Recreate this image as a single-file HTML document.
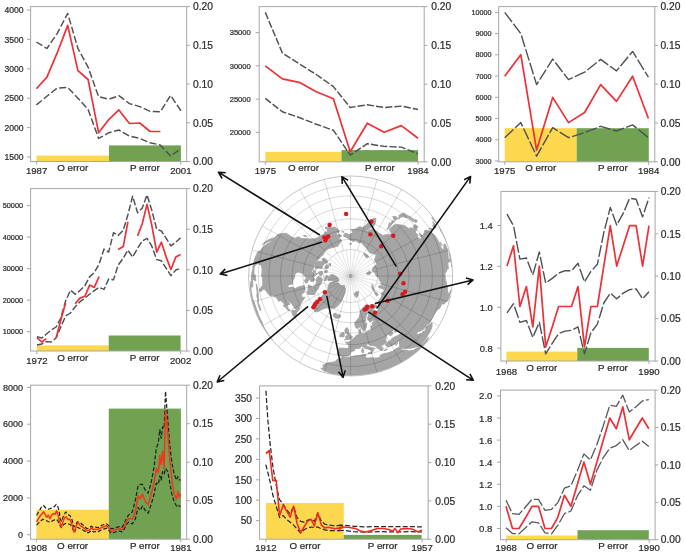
<!DOCTYPE html>
<html><head><meta charset="utf-8"><title>State-space model fits: observation and process error</title>
<style>html,body{margin:0;padding:0;background:#fff}svg{display:block;filter:blur(0.35px)}text{font-family:"Liberation Sans", sans-serif;stroke:#2a2a2a;stroke-width:0.22px}</style></head>
<body>
<svg width="685" height="555" viewBox="0 0 685 555">
<rect width="685" height="555" fill="#fff"/>
<clipPath id="gc"><circle cx="0.0" cy="0.0" r="100.0"/></clipPath>
<g transform="translate(350.6,276.0) scale(1.02,1)">
<circle cx="0.0" cy="0.0" r="100.0" fill="#fff"/>
<g clip-path="url(#gc)">
<path d="M-96.5,22.3 L-97.6,17.2 L-98.2,12.1 L-98.2,7.7 L-97.3,4.3 L-97.0,-1.7 L-95.9,-6.7 L-95.5,-11.7 L-94.6,-15.0 L-93.6,-18.2 L-92.3,-21.3 L-90.8,-24.3 L-88.5,-25.4 L-85.3,-29.4 L-81.1,-32.8 L-78.7,-33.4 L-77.4,-35.6 L-81.4,-34.2 L-85.2,-31.9 L-86.5,-31.5 L-84.0,-34.0 L-80.0,-36.4 L-77.0,-37.6 L-74.6,-38.3 L-71.0,-41.8 L-67.7,-42.3 L-63.5,-42.8 L-60.5,-41.1 L-57.1,-38.5 L-54.6,-37.8 L-55.0,-35.7 L-52.7,-36.9 L-50.3,-37.9 L-44.5,-37.3 L-39.8,-37.1 L-35.8,-37.0 L-34.0,-37.7 L-32.1,-38.3 L-30.8,-39.4 L-29.4,-40.5 L-27.7,-41.1 L-26.1,-41.8 L-24.6,-44.4 L-22.8,-42.8 L-23.0,-46.1 L-23.2,-47.6 L-21.3,-50.1 L-19.2,-52.8 L-19.4,-50.6 L-19.9,-48.1 L-17.9,-48.6 L-15.9,-49.0 L-12.5,-46.8 L-11.0,-44.1 L-12.4,-43.3 L-13.8,-42.4 L-14.0,-40.7 L-12.6,-41.2 L-11.1,-41.6 L-8.6,-40.4 L-9.8,-39.4 L-11.0,-38.3 L-12.1,-37.2 L-10.5,-36.6 L-8.9,-35.9 L-10.2,-33.5 L-11.1,-32.2 L-11.9,-31.0 L-12.6,-29.7 L-14.0,-29.4 L-15.4,-29.0 L-16.8,-28.8 L-18.2,-28.4 L-19.6,-28.0 L-20.8,-27.6 L-21.9,-27.1 L-23.0,-26.4 L-24.0,-25.7 L-25.0,-25.0 L-25.7,-23.7 L-26.4,-22.4 L-27.0,-21.1 L-28.0,-20.3 L-29.0,-19.6 L-29.9,-18.7 L-30.8,-17.8 L-31.6,-16.8 L-32.9,-16.1 L-34.2,-15.2 L-34.7,-14.0 L-35.2,-12.8 L-35.6,-11.6 L-36.0,-10.3 L-36.3,-9.1 L-36.6,-7.8 L-37.2,-6.6 L-37.6,-5.3 L-38.1,-4.0 L-35.7,-2.5 L-31.6,-2.8 L-34.2,-1.2 L-35.4,0.0 L-36.6,1.3 L-34.9,3.1 L-36.3,5.1 L-38.6,5.8 L-39.6,4.3 L-40.6,2.8 L-43.8,1.5 L-45.4,-0.4 L-46.9,-2.5 L-51.3,-4.0 L-54.4,-2.4 L-54.8,-0.2 L-55.2,1.9 L-56.7,5.0 L-56.8,8.0 L-60.3,8.5 L-61.7,10.9 L-60.4,11.7 L-57.0,11.1 L-54.5,12.6 L-51.1,10.9 L-48.2,10.2 L-45.3,9.6 L-45.1,11.2 L-44.8,12.9 L-45.2,14.7 L-45.6,16.6 L-48.2,18.0 L-47.7,21.3 L-44.7,21.3 L-47.4,25.2 L-49.7,28.7 L-49.9,32.4 L-51.0,34.4 L-54.5,32.8 L-56.1,30.4 L-57.5,28.1 L-59.8,25.4 L-63.5,23.1 L-61.7,24.9 L-59.9,26.7 L-59.8,28.5 L-61.8,28.8 L-62.4,30.5 L-60.8,33.7 L-59.6,34.4 L-61.6,34.2 L-64.1,31.3 L-66.3,29.5 L-64.8,28.9 L-65.3,27.7 L-67.9,24.7 L-70.1,24.8 L-70.2,25.5 L-71.7,23.3 L-73.1,21.0 L-74.6,20.7 L-76.3,19.7 L-77.5,19.3 L-78.9,20.1 L-80.3,18.5 L-82.1,16.0 L-84.2,13.3 L-85.6,13.1 L-87.7,15.5 L-89.1,15.2 L-89.3,13.3 L-87.6,11.2 L-86.1,9.1 L-86.1,6.0 L-86.4,1.5 L-87.3,0.0 L-86.9,-3.0 L-86.8,-6.8 L-87.6,-10.8 L-89.9,-11.8 L-91.5,-12.5 L-94.0,-9.9 L-94.7,-7.5 L-94.8,-2.5 L-93.4,-0.8 L-92.9,4.9 L-94.7,4.1 L-96.1,2.5 L-96.0,6.7 L-95.9,10.9 L-96.8,11.0 L-97.5,11.1 L-97.8,13.7 L-97.2,17.1 L-96.8,18.8 L-96.4,22.2Z M-96.4,22.2 L-97.0,21.9 L-97.4,21.6 L-97.9,19.9 L-98.5,17.4 L-97.8,20.8 L-97.0,24.2 L-96.1,27.6 L-95.1,30.9 L-94.0,34.2 L-92.7,37.5 L-91.4,40.7 L-89.9,43.8 L-88.3,46.9 L-86.6,50.0 L-84.8,53.0 L-82.9,55.9 L-80.9,58.8 L-78.8,61.6 L-76.6,64.3 L-77.1,63.6 L-77.5,62.8 L-80.5,58.5 L-83.4,54.2 L-85.7,49.5 L-86.8,46.2 L-88.4,43.1 L-90.5,38.4 L-92.1,33.5 L-93.1,31.1 L-93.0,30.2 L-93.8,28.7 L-94.9,25.4 L-96.0,23.1Z M-35.4,35.4 L-36.0,32.4 L-34.7,28.1 L-32.5,24.5 L-29.0,21.1 L-26.7,18.7 L-24.4,16.1 L-21.9,13.7 L-22.0,12.7 L-22.1,11.8 L-22.1,10.8 L-22.1,9.8 L-21.4,8.6 L-20.6,7.5 L-19.8,6.4 L-17.9,6.5 L-16.1,6.5 L-15.1,6.7 L-14.1,6.9 L-13.1,6.9 L-12.1,7.0 L-11.7,7.3 L-11.3,7.7 L-10.9,8.0 L-10.5,8.4 L-10.1,8.7 L-9.7,9.0 L-9.2,9.2 L-8.7,9.4 L-8.1,9.5 L-7.6,9.5 L-7.0,9.6 L-6.5,9.6 L-6.0,9.6 L-5.9,10.3 L-5.8,10.9 L-5.6,11.6 L-5.4,12.2 L-5.2,12.9 L-5.4,14.7 L-5.4,16.5 L-7.3,21.3 L-9.4,25.9 L-12.7,30.0 L-15.7,32.2 L-17.1,32.1 L-18.5,32.0 L-19.9,31.8 L-21.5,31.9 L-23.3,32.0 L-25.0,32.1 L-29.8,34.3 L-33.6,36.0Z M-16.9,37.9 L-15.0,37.1 L-13.8,37.9 L-12.6,38.7 L-10.4,38.8 L-9.9,41.1 L-12.1,42.1 L-14.6,42.3 L-16.8,40.5Z M-28.0,4.9 L-28.5,6.6 L-29.4,7.9 L-30.3,9.3 L-31.1,11.0 L-31.7,12.8 L-34.2,15.2 L-34.8,17.0 L-35.2,18.7 L-38.0,18.5 L-41.5,18.5 L-42.8,17.3 L-42.3,15.4 L-41.7,13.5 L-41.6,11.1 L-41.3,8.8 L-39.5,9.8 L-37.6,10.8 L-35.0,10.7 L-34.3,8.9 L-33.5,7.1 L-33.7,5.9 L-33.9,4.8 L-33.6,3.5 L-33.3,2.3 L-31.7,0.6 L-28.3,2.0 L-28.0,2.9 L-27.6,3.9Z M-28.3,-14.4 L-32.5,-15.1 L-33.5,-13.9 L-34.4,-12.5 L-34.6,-10.9 L-34.6,-9.3 L-34.5,-8.0 L-34.4,-6.7 L-31.6,-7.9 L-28.2,-7.6 L-27.9,-8.8 L-27.5,-10.0 L-26.6,-11.0 L-25.7,-12.0 L-26.6,-14.1Z M-25.3,-17.7 L-27.3,-17.7 L-27.5,-15.9 L-26.9,-14.3 L-26.3,-12.8 L-23.9,-12.7 L-23.4,-13.5 L-22.9,-14.3 L-22.4,-15.1Z M-23.3,0.0 L-22.9,1.0 L-22.4,2.0 L-22.3,2.9 L-22.2,3.8 L-22.0,4.7 L-18.5,4.6 L-17.8,5.1 L-17.1,5.5 L-16.3,5.9 L-15.0,6.1 L-13.8,6.1 L-12.5,6.1 L-12.2,5.4 L-11.8,4.8 L-11.5,4.2 L-11.6,3.8 L-11.7,3.4 L-11.8,2.9 L-11.9,2.5 L-12.0,2.1 L-12.5,1.8 L-13.0,1.4 L-13.5,0.9 L-13.9,0.5 L-14.8,0.0 L-15.6,-0.5 L-16.5,0.0 L-17.4,0.6 L-18.2,1.3 L-20.8,0.7Z M-23.3,-0.8 L-24.2,0.0 L-25.0,0.9 L-25.2,1.8 L-25.3,2.7 L-25.4,3.6 L-25.5,4.5 L-23.8,4.2 L-23.6,3.3 L-23.4,2.5 L-23.1,1.6 L-22.8,0.8 L-23.1,0.0Z M-23.3,-11.3 L-23.9,-10.6 L-24.5,-9.9 L-25.1,-9.1 L-24.6,-8.0 L-24.1,-6.9 L-23.0,-7.5 L-21.9,-8.0 L-21.7,-8.8 L-21.5,-9.6 L-21.3,-10.4Z M-28.0,-4.9 L-31.5,-3.9 L-31.2,-2.7 L-30.9,-1.6 L-29.2,0.0 L-28.4,-1.0 L-27.5,-1.9 L-27.6,-2.9 L-27.6,-3.9Z M-43.8,2.3 L-45.2,4.7 L-44.1,7.0 L-42.5,6.7 L-41.7,5.1 L-40.8,3.6Z M-57.7,34.7 L-56.8,38.3 L-54.8,41.3 L-52.9,39.9 L-53.0,36.4 L-51.6,34.8 L-55.1,34.4Z M-92.4,8.1 L-91.2,12.8 L-90.8,16.0 L-90.4,19.2 L-90.5,24.2 L-90.3,25.9 L-91.9,20.4 L-91.6,16.2 L-92.2,11.3Z M-91.4,25.3 L-89.5,29.1 L-88.0,33.8 L-88.3,34.8 L-90.0,31.0Z M-7.8,80.5 L-12.5,78.9 L-12.6,76.7 L-11.4,73.4 L-11.4,72.0 L-8.9,72.2 L-6.3,72.3 L-2.3,72.6 L-1.5,69.5 L-5.2,66.3 L-1.7,66.0 L0.0,64.9 L2.2,62.9 L4.3,61.4 L5.2,59.5 L8.2,58.5 L8.4,56.0 L7.8,53.9 L9.8,52.8 L9.8,55.8 L11.2,57.7 L14.2,57.0 L16.0,56.0 L17.8,54.8 L19.9,54.6 L20.0,52.2 L19.7,50.0 L22.0,49.5 L20.9,47.1 L22.3,45.8 L23.7,44.5 L25.0,43.3 L23.3,43.9 L21.7,44.4 L19.1,46.2 L17.5,44.4 L16.6,42.2 L17.9,38.3 L16.7,37.4 L15.5,39.3 L14.3,43.9 L14.2,46.4 L15.9,47.4 L15.3,51.5 L14.0,54.1 L12.7,55.2 L10.0,51.3 L9.3,50.2 L7.4,52.5 L5.5,52.0 L4.4,49.8 L4.1,46.8 L6.2,44.2 L8.1,41.8 L9.0,38.9 L9.5,35.4 L10.7,33.0 L11.7,32.1 L12.6,31.3 L13.5,30.3 L14.3,29.3 L16.2,29.2 L17.8,29.6 L19.4,29.3 L21.1,29.0 L23.1,29.0 L25.1,28.9 L25.8,30.8 L24.4,31.8 L22.9,32.7 L21.6,33.3 L24.7,35.3 L26.4,35.0 L27.5,32.7 L26.3,31.4 L27.2,30.2 L27.9,28.9 L26.0,26.9 L26.9,26.0 L27.7,25.0 L28.4,23.9 L29.2,22.8 L29.9,21.7 L30.3,20.4 L30.7,19.2 L30.2,17.1 L31.4,16.1 L32.5,15.1 L33.3,14.1 L31.0,12.5 L27.7,11.7 L27.5,10.0 L30.3,9.5 L34.2,10.8 L37.5,11.1 L34.4,9.9 L29.8,8.0 L29.9,6.4 L28.1,4.4 L28.0,3.2 L27.8,1.9 L26.5,0.9 L25.0,0.0 L24.7,-0.9 L24.4,-1.7 L24.1,-2.5 L23.5,-3.3 L23.0,-4.1 L21.9,-4.7 L20.8,-5.2 L21.5,-6.6 L22.0,-7.8 L22.4,-9.1 L25.3,-11.0 L26.2,-9.5 L26.0,-10.5 L25.7,-11.4 L25.4,-12.4 L25.1,-13.3 L24.5,-14.1 L23.9,-14.9 L23.3,-15.7 L23.9,-17.3 L24.4,-19.0 L25.2,-21.1 L23.8,-21.8 L22.4,-22.4 L20.9,-22.8 L19.3,-23.0 L18.6,-23.8 L17.8,-24.5 L17.0,-25.2 L16.5,-26.3 L15.9,-27.5 L14.8,-28.5 L13.8,-29.5 L12.8,-30.8 L11.7,-32.1 L10.8,-33.2 L9.5,-33.3 L8.3,-33.4 L7.1,-33.5 L5.6,-35.4 L4.0,-35.0 L2.4,-34.4 L1.2,-35.2 L0.0,-35.8 L-1.6,-37.0 L-3.3,-38.1 L-5.2,-39.1 L-7.1,-40.1 L-5.3,-43.0 L-3.3,-42.3 L-1.4,-41.4 L0.0,-42.3 L2.3,-43.0 L0.8,-46.2 L2.9,-46.6 L4.9,-47.0 L6.8,-48.2 L8.7,-49.2 L10.4,-48.9 L12.1,-48.5 L15.1,-50.8 L17.3,-53.2 L17.9,-55.2 L20.6,-56.6 L23.3,-57.7 L24.9,-57.8 L24.4,-53.5 L22.6,-49.6 L19.6,-48.4 L16.8,-46.3 L13.7,-44.9 L16.3,-44.8 L18.6,-46.0 L20.9,-47.1 L22.6,-46.3 L24.2,-45.5 L26.0,-44.2 L27.8,-42.8 L29.8,-41.7 L31.7,-40.6 L34.5,-41.2 L37.4,-41.6 L41.1,-41.1 L39.3,-43.7 L37.9,-46.8 L40.9,-49.6 L43.0,-51.3 L47.8,-51.3 L50.7,-50.7 L53.7,-50.0 L56.7,-47.5 L59.5,-48.2 L61.2,-47.0 L61.8,-50.6 L63.5,-51.4 L66.2,-49.0 L64.2,-47.5 L64.6,-45.2 L63.0,-44.1 L66.3,-40.6 L64.9,-39.0 L68.6,-36.5 L69.4,-38.5 L67.1,-42.7 L70.1,-40.5 L71.3,-40.3 L72.3,-43.4 L72.7,-45.4 L74.9,-45.9 L77.5,-44.7 L80.3,-42.7 L82.7,-40.4 L84.9,-36.9 L87.3,-32.6 L87.7,-31.1 L88.5,-28.8 L90.6,-26.0 L91.4,-27.1 L91.4,-30.6 L92.0,-32.2 L92.7,-31.9 L94.0,-28.7 L95.5,-25.6 L95.2,-25.2 L95.6,-22.1 L95.4,-21.2 L95.7,-18.6 L95.8,-16.9 L96.8,-16.2 L97.3,-16.3 L97.5,-18.1 L97.2,-20.7 L97.0,-23.1 L97.1,-23.3 L97.0,-24.2 L97.4,-22.5 L97.9,-19.6 L98.0,-18.0 L97.8,-17.3 L98.0,-14.3 L97.4,-14.6 L96.7,-14.5 L95.7,-12.9 L95.1,-12.5 L95.7,-9.2 L95.9,-7.2 L94.6,-7.1 L93.3,-3.3 L92.4,-2.4 L92.7,0.0 L92.9,2.4 L93.2,4.9 L93.8,5.7 L93.9,8.2 L95.1,12.5 L95.0,16.4 L95.8,16.9 L96.8,17.4 L96.9,18.8 L96.8,20.6 L96.7,21.4 L95.8,23.4 L94.5,25.3 L92.9,26.6 L91.5,28.0 L90.3,28.0 L89.1,27.8 L88.9,28.4 L88.4,30.4 L86.4,33.2 L86.5,31.5 L84.9,34.3 L83.6,35.5 L81.3,39.6 L79.5,43.2 L76.5,47.8 L74.7,48.5 L72.8,51.9 L70.4,54.0 L67.8,55.3 L66.2,55.6 L64.9,57.0 L64.7,58.2 L66.6,58.3 L68.4,57.4 L69.3,57.8 L70.6,57.2 L70.5,56.0 L72.4,55.5 L73.8,53.6 L74.5,50.3 L75.9,50.2 L78.1,47.9 L79.8,46.5 L79.9,48.9 L79.9,50.5 L78.9,53.2 L78.3,54.9 L75.7,59.2 L73.2,63.7 L71.1,66.3 L69.0,69.0 L67.2,70.8 L66.0,70.8 L64.8,70.7 L62.0,71.4 L58.6,72.3 L55.5,72.3 L51.5,72.2 L50.3,72.6 L49.9,71.3 L49.8,72.9 L48.6,73.5 L46.5,73.0 L46.0,72.1 L48.2,70.6 L48.1,68.7 L47.9,65.9 L47.1,64.8 L44.0,67.7 L40.9,69.4 L38.9,70.1 L36.9,70.8 L34.9,70.0 L34.4,69.1 L33.7,68.5 L36.6,66.0 L38.8,64.5 L41.0,62.0 L44.0,60.6 L46.5,59.5 L49.0,57.4 L49.6,55.9 L48.6,55.0 L45.3,55.9 L43.0,56.1 L43.2,54.4 L43.0,52.6 L41.5,54.1 L40.0,56.0 L41.8,56.5 L40.9,58.4 L39.4,59.5 L37.7,59.1 L38.3,57.9 L35.8,58.5 L35.3,59.9 L34.9,61.1 L34.5,63.1 L34.6,65.1 L35.4,66.0 L33.2,68.0 L30.8,69.2 L30.5,70.0 L29.5,70.2 L30.4,71.5 L32.1,72.0 L31.0,73.0 L31.4,74.0 L30.8,74.3 L29.3,74.3 L28.4,73.2 L26.3,72.3 L25.2,71.1 L24.8,70.1 L22.0,69.8 L19.2,69.3 L17.6,68.1 L16.6,68.1 L15.2,68.4 L15.2,69.7 L16.9,70.4 L19.2,71.8 L20.5,71.7 L24.2,72.4 L23.7,72.9 L22.2,72.7 L21.9,74.0 L22.7,74.3 L21.7,75.7 L21.3,75.9 L21.4,74.7 L19.8,74.0 L17.6,73.2 L15.5,72.7 L13.3,71.9 L12.5,70.8 L10.9,70.6 L9.4,71.6 L8.3,72.4 L5.7,72.4 L3.9,72.8 L4.2,74.3 L1.3,75.5 L0.0,76.6 L-0.4,77.7 L0.0,78.0 L-1.0,79.1 L-2.8,80.0 L-6.3,79.9Z M46.5,73.0 L46.0,72.1 L43.9,73.1 L41.6,75.0 L38.8,76.1 L36.0,77.1 L32.9,77.5 L28.8,79.3 L29.4,80.7 L26.6,81.9 L22.8,82.2 L21.9,81.6 L18.9,81.9 L16.0,82.1 L14.3,81.2 L15.2,78.4 L13.8,78.3 L9.7,79.3 L7.0,79.7 L4.2,80.0 L0.0,81.1 L-2.9,81.7 L-7.8,80.7 L-9.4,82.1 L-14.1,84.1 L-14.8,85.8 L-20.0,86.4 L-23.1,87.3 L-25.3,88.2 L-27.3,89.3 L-26.5,90.8 L-27.3,92.2 L-29.1,92.2 L-28.1,93.5 L-25.4,94.8 L-22.7,96.1 L-19.8,97.3 L-13.9,98.7 L-8.7,99.2 L-3.5,99.6 L1.7,99.4 L7.8,99.1 L10.4,99.2 L14.7,98.6 L16.8,98.4 L16.2,98.7 L15.6,98.8 L19.2,98.1 L22.8,97.4 L26.4,96.5 L29.9,95.4 L33.3,94.3 L36.8,93.0 L40.1,91.6 L43.4,90.1 L46.7,88.4 L49.9,86.7 L53.0,84.8 L56.1,82.8 L59.1,80.7 L62.0,78.5 L64.8,76.1 L67.6,73.7 L70.1,71.3 L73.5,67.4 L74.9,65.1 L76.1,62.7 L76.3,61.3 L72.9,65.6 L68.9,70.1 L67.1,71.4 L66.5,71.3 L63.4,72.9 L61.3,74.4 L59.2,74.4 L57.3,75.2 L56.0,74.3 L53.4,74.3 L49.8,73.9Z M-6.2,64.0 L-3.3,63.5 L-1.1,63.3 L1.1,62.9 L1.6,60.4 L0.0,59.5 L-1.5,57.3 L-2.0,55.9 L-1.9,53.4 L-3.7,53.3 L-2.7,52.0 L-4.5,51.9 L-5.7,54.2 L-5.0,57.1 L-3.0,57.6 L-3.1,59.4 L-4.7,60.0 L-4.8,61.4 L-5.4,61.7 L-3.3,62.3Z M-10.7,60.6 L-6.7,60.9 L-6.1,58.5 L-6.9,56.5 L-10.2,57.9Z M25.7,20.0 L27.1,19.0 L25.9,16.8 L22.9,15.4 L21.9,13.7 L21.0,12.1 L21.0,11.2 L21.0,10.2 L20.9,9.3 L20.9,8.4 L22.1,9.8 L22.3,10.9 L22.4,11.9 L22.4,12.9 L23.8,15.5 L23.7,17.2 L25.0,19.5Z M3.6,18.7 L4.7,20.3 L5.8,21.7 L6.7,20.6 L7.2,19.7 L7.6,18.8 L7.8,17.1 L7.9,15.5 L7.2,15.6 L6.5,15.7 L5.8,15.8 L5.3,16.2 L4.7,16.5 L4.2,16.8Z M19.0,-1.7 L19.6,-2.6 L20.1,-3.6 L19.3,-4.3 L18.4,-4.9 L17.0,-3.8 L15.4,-2.7 L15.9,-2.1 L16.4,-1.4Z M17.7,-18.9 L17.2,-19.7 L16.6,-20.6 L16.1,-21.3 L15.0,-21.7 L14.0,-22.1 L12.9,-22.4 L13.5,-21.1 L13.9,-19.8 L14.7,-19.2 L15.4,-18.6 L16.2,-18.0Z M1.1,-32.5 L0.0,-32.4 L-1.1,-32.2 L-0.6,-31.6 L0.6,-31.7Z M42.8,-54.7 L40.9,-55.3 L39.1,-51.9 L38.1,-53.4 L37.1,-49.2 L35.5,-46.3 L37.1,-47.4 L39.6,-50.7 L41.2,-52.7Z M48.1,-57.4 L45.5,-57.2 L43.3,-55.1 L41.3,-59.6 L44.7,-59.4 L46.4,-57.3Z M47.3,-58.4 L47.5,-60.8 L50.3,-62.1 L52.0,-63.1 L56.1,-60.2 L58.4,-59.5 L58.2,-58.2 L60.4,-56.3 L62.6,-54.4 L62.2,-54.1 L59.5,-55.5 L56.4,-58.4 L54.3,-58.2 L51.7,-59.5 L49.2,-58.7 L48.3,-58.0Z M62.7,-54.5 L62.5,-56.2 L64.2,-56.4 L65.3,-55.2 L64.5,-53.6 L63.1,-53.9Z M61.1,-56.0 L59.0,-58.0 L59.7,-58.2 L61.5,-57.3 L61.8,-56.3Z M77.6,-46.6 L76.9,-48.0 L79.6,-47.5 L79.6,-46.3Z M89.5,-30.3 L88.0,-32.9 L88.0,-33.8 L89.5,-31.7Z M81.7,-48.1 L80.3,-50.6 L81.5,-50.9 L80.6,-54.4 L81.7,-53.1 L82.7,-50.7 L83.4,-49.1 L83.2,-48.1Z M84.2,-52.6 L82.5,-54.6 L80.2,-57.2 L79.7,-59.0 L81.0,-57.8 L82.4,-55.6Z M94.5,-32.5 L93.3,-35.8 L91.9,-39.0 L89.8,-42.9 L88.4,-45.1 L87.1,-48.3 L88.0,-46.8 L88.4,-46.6 L88.7,-46.2 L90.4,-42.9 L91.9,-39.5 L93.3,-36.0 L94.6,-32.6Z M99.1,-9.2 L98.7,-13.0 L98.3,-17.9 L97.4,-22.5 L97.2,-23.7 L98.0,-19.7 L98.8,-15.6 L99.0,-13.9 L99.2,-10.4Z M97.1,17.1 L98.1,14.1 L98.3,15.0 L97.9,17.3 L97.4,17.7Z M17.1,76.9 L21.0,75.7 L21.0,77.4 L17.2,77.5Z M10.8,74.7 L12.7,74.4 L12.9,76.4 L11.5,76.9Z M11.0,72.9 L12.1,72.1 L12.4,73.9 L11.5,74.0Z M32.5,74.7 L36.2,73.2 L35.9,73.6 L32.6,74.9Z M43.8,69.2 L46.1,67.0 L45.9,68.1 L44.2,69.4Z M-23.1,-48.5 L-24.5,-47.0 L-25.1,-48.3 L-24.0,-49.2Z M-49.9,-39.0 L-52.7,-36.9 L-55.3,-36.6 L-53.7,-38.3 L-51.0,-39.1Z M-43.0,-40.1 L-43.9,-39.1 L-46.3,-40.2 L-44.5,-40.5Z M-6.4,-43.8 L-8.6,-44.1 L-8.3,-44.6 L-6.6,-44.4Z M-17.3,-1.8 L-17.0,-1.2 L-16.8,-0.6 L-16.5,0.0 L-19.1,1.0 L-19.7,0.2 L-20.3,-0.7 L-18.8,-1.3Z M-20.0,-13.0 L-19.9,-11.9 L-19.7,-10.9 L-19.8,-9.6 L-21.2,-11.7 L-20.6,-12.4Z M-24.3,-6.1 L-24.8,-5.3 L-25.2,-4.4 L-25.6,-3.6 L-23.1,-3.2 L-23.0,-4.3 L-22.7,-5.3Z M-35.3,-5.9 L-36.4,-3.8 L-34.3,-3.6 L-34.2,-5.1Z" fill="#a5a5a5" stroke="#a5a5a5" stroke-width="0.9" stroke-linejoin="round"/>
<g fill="none" stroke="#000" stroke-opacity="0.22" stroke-width="0.7"><circle cx="0.0" cy="0.0" r="26.5"/><circle cx="0.0" cy="0.0" r="36.8"/><circle cx="0.0" cy="0.0" r="46.8"/><circle cx="0.0" cy="0.0" r="57.4"/><circle cx="0.0" cy="0.0" r="68.7"/><circle cx="0.0" cy="0.0" r="80.2"/><circle cx="0.0" cy="0.0" r="90.5"/><line x1="0.0" y1="-26.5" x2="0.0" y2="-101.0"/><line x1="6.9" y1="-25.6" x2="26.1" y2="-97.6"/><line x1="13.2" y1="-22.9" x2="50.5" y2="-87.5"/><line x1="18.7" y1="-18.7" x2="71.4" y2="-71.4"/><line x1="22.9" y1="-13.3" x2="87.5" y2="-50.5"/><line x1="25.6" y1="-6.9" x2="97.6" y2="-26.1"/><line x1="26.5" y1="-0.0" x2="101.0" y2="-0.0"/><line x1="25.6" y1="6.9" x2="97.6" y2="26.1"/><line x1="22.9" y1="13.2" x2="87.5" y2="50.5"/><line x1="18.7" y1="18.7" x2="71.4" y2="71.4"/><line x1="13.2" y1="22.9" x2="50.5" y2="87.5"/><line x1="6.9" y1="25.6" x2="26.1" y2="97.6"/><line x1="0.0" y1="26.5" x2="0.0" y2="101.0"/><line x1="-6.9" y1="25.6" x2="-26.1" y2="97.6"/><line x1="-13.3" y1="22.9" x2="-50.5" y2="87.5"/><line x1="-18.7" y1="18.7" x2="-71.4" y2="71.4"/><line x1="-22.9" y1="13.3" x2="-87.5" y2="50.5"/><line x1="-25.6" y1="6.9" x2="-97.6" y2="26.1"/><line x1="-26.5" y1="0.0" x2="-101.0" y2="0.0"/><line x1="-25.6" y1="-6.9" x2="-97.6" y2="-26.1"/><line x1="-22.9" y1="-13.3" x2="-87.5" y2="-50.5"/><line x1="-18.7" y1="-18.7" x2="-71.4" y2="-71.4"/><line x1="-13.3" y1="-22.9" x2="-50.5" y2="-87.5"/><line x1="-6.9" y1="-25.6" x2="-26.1" y2="-97.6"/></g>
<g fill="none" stroke="#000" stroke-opacity="0.2" stroke-width="0.55"><line x1="0.0" y1="-2.5" x2="0.0" y2="-26.5"/><line x1="0.4" y1="-2.5" x2="4.6" y2="-26.1"/><line x1="0.9" y1="-2.3" x2="9.1" y2="-24.9"/><line x1="1.2" y1="-2.2" x2="13.2" y2="-22.9"/><line x1="1.6" y1="-1.9" x2="17.0" y2="-20.3"/><line x1="1.9" y1="-1.6" x2="20.3" y2="-17.0"/><line x1="2.2" y1="-1.3" x2="22.9" y2="-13.3"/><line x1="2.3" y1="-0.9" x2="24.9" y2="-9.1"/><line x1="2.5" y1="-0.4" x2="26.1" y2="-4.6"/><line x1="2.5" y1="-0.0" x2="26.5" y2="-0.0"/><line x1="2.5" y1="0.4" x2="26.1" y2="4.6"/><line x1="2.3" y1="0.9" x2="24.9" y2="9.1"/><line x1="2.2" y1="1.2" x2="22.9" y2="13.2"/><line x1="1.9" y1="1.6" x2="20.3" y2="17.0"/><line x1="1.6" y1="1.9" x2="17.0" y2="20.3"/><line x1="1.2" y1="2.2" x2="13.2" y2="22.9"/><line x1="0.9" y1="2.3" x2="9.1" y2="24.9"/><line x1="0.4" y1="2.5" x2="4.6" y2="26.1"/><line x1="0.0" y1="2.5" x2="0.0" y2="26.5"/><line x1="-0.4" y1="2.5" x2="-4.6" y2="26.1"/><line x1="-0.9" y1="2.3" x2="-9.1" y2="24.9"/><line x1="-1.3" y1="2.2" x2="-13.3" y2="22.9"/><line x1="-1.6" y1="1.9" x2="-17.0" y2="20.3"/><line x1="-1.9" y1="1.6" x2="-20.3" y2="17.0"/><line x1="-2.2" y1="1.3" x2="-22.9" y2="13.3"/><line x1="-2.3" y1="0.9" x2="-24.9" y2="9.1"/><line x1="-2.5" y1="0.4" x2="-26.1" y2="4.6"/><line x1="-2.5" y1="0.0" x2="-26.5" y2="0.0"/><line x1="-2.5" y1="-0.4" x2="-26.1" y2="-4.6"/><line x1="-2.3" y1="-0.9" x2="-24.9" y2="-9.1"/><line x1="-2.2" y1="-1.3" x2="-22.9" y2="-13.3"/><line x1="-1.9" y1="-1.6" x2="-20.3" y2="-17.0"/><line x1="-1.6" y1="-1.9" x2="-17.0" y2="-20.3"/><line x1="-1.3" y1="-2.2" x2="-13.3" y2="-22.9"/><line x1="-0.9" y1="-2.3" x2="-9.1" y2="-24.9"/><line x1="-0.4" y1="-2.5" x2="-4.6" y2="-26.1"/></g>
<circle cx="0.0" cy="0.0" r="2.2" fill="#000" fill-opacity="0.35"/>
</g>
<circle cx="0.0" cy="0.0" r="100.0" fill="none" stroke="#bdbdbd" stroke-width="0.9"/>
</g>
<circle cx="346.1" cy="214" r="2.2" fill="#d8191f"/>
<circle cx="329.6" cy="224.9" r="2.2" fill="#d8191f"/>
<circle cx="324.3" cy="237.4" r="2.2" fill="#d8191f"/>
<circle cx="328.3" cy="236.4" r="2.2" fill="#d8191f"/>
<circle cx="325.3" cy="240.4" r="2.2" fill="#d8191f"/>
<circle cx="326.3" cy="238.4" r="2.2" fill="#d8191f"/>
<circle cx="371.4" cy="221.5" r="2.2" fill="#d8191f"/>
<circle cx="370.4" cy="234.4" r="2.2" fill="#d8191f"/>
<circle cx="393.2" cy="235.8" r="2.2" fill="#d8191f"/>
<circle cx="381.3" cy="246.3" r="2.2" fill="#d8191f"/>
<circle cx="400.1" cy="273.7" r="2.2" fill="#d8191f"/>
<circle cx="403.5" cy="283.3" r="2.2" fill="#d8191f"/>
<circle cx="405.1" cy="291.8" r="2.2" fill="#d8191f"/>
<circle cx="402.5" cy="294.2" r="2.2" fill="#d8191f"/>
<circle cx="387.6" cy="300.7" r="2.2" fill="#d8191f"/>
<circle cx="372.2" cy="306.3" r="2.2" fill="#d8191f"/>
<circle cx="367.2" cy="306.7" r="2.2" fill="#d8191f"/>
<circle cx="364.8" cy="309.6" r="2.2" fill="#d8191f"/>
<circle cx="366.4" cy="308.6" r="2.2" fill="#d8191f"/>
<circle cx="375.1" cy="312.6" r="2.2" fill="#d8191f"/>
<circle cx="324.9" cy="292.2" r="2.2" fill="#d8191f"/>
<circle cx="319.9" cy="299.1" r="2.2" fill="#d8191f"/>
<circle cx="317.3" cy="301.7" r="2.2" fill="#d8191f"/>
<circle cx="315.4" cy="303.7" r="2.2" fill="#d8191f"/>
<circle cx="314.4" cy="305.7" r="2.2" fill="#d8191f"/>
<circle cx="313.4" cy="307.3" r="2.2" fill="#d8191f"/>
<path d="M319.8,235.0 L218.4,172.2 M225.7,172.7 L218.4,172.2 L222.1,178.5" fill="none" stroke="#111" stroke-width="1.55" stroke-linecap="butt" stroke-linejoin="round"/>
<path d="M322.1,242.0 L220.2,274.1 M225.3,268.9 L220.2,274.1 L227.4,275.4" fill="none" stroke="#111" stroke-width="1.55" stroke-linecap="butt" stroke-linejoin="round"/>
<path d="M396.3,266.6 L341.9,176.6 M348.2,180.3 L341.9,176.6 L342.3,183.9" fill="none" stroke="#111" stroke-width="1.55" stroke-linecap="butt" stroke-linejoin="round"/>
<path d="M376.6,308.5 L470.6,176.4 M469.7,183.6 L470.6,176.4 L464.1,179.7" fill="none" stroke="#111" stroke-width="1.55" stroke-linecap="butt" stroke-linejoin="round"/>
<path d="M374.9,303.4 L473.1,279.9 M467.6,284.7 L473.1,279.9 L466.0,278.1" fill="none" stroke="#111" stroke-width="1.55" stroke-linecap="butt" stroke-linejoin="round"/>
<path d="M368.3,311.8 L473.4,380.3 M466.1,379.7 L473.4,380.3 L469.9,373.9" fill="none" stroke="#111" stroke-width="1.55" stroke-linecap="butt" stroke-linejoin="round"/>
<path d="M326.8,295.8 L343.1,377.4 M338.5,371.8 L343.1,377.4 L345.2,370.4" fill="none" stroke="#111" stroke-width="1.55" stroke-linecap="butt" stroke-linejoin="round"/>
<path d="M308.1,306.3 L217.2,382.0 M220.0,375.2 L217.2,382.0 L224.3,380.5" fill="none" stroke="#111" stroke-width="1.55" stroke-linecap="butt" stroke-linejoin="round"/>
<rect x="36.6" y="155.6" width="72.4" height="5.9" fill="#fdd84f"/>
<rect x="109.0" y="145.4" width="71.9" height="16.1" fill="#70a251"/>
<rect x="30.6" y="6.6" width="156.1" height="154.9" fill="none" stroke="#a6a6a6" stroke-width="1"/>
<line x1="27.0" y1="10.0" x2="30.6" y2="10.0" stroke="#a6a6a6" stroke-width="1"/>
<text x="23.6" y="13.1" font-size="8.6" text-anchor="end" fill="#2a2a2a" stroke-width="0.08">4000</text>
<line x1="27.0" y1="39.4" x2="30.6" y2="39.4" stroke="#a6a6a6" stroke-width="1"/>
<text x="23.6" y="42.5" font-size="8.6" text-anchor="end" fill="#2a2a2a" stroke-width="0.08">3500</text>
<line x1="27.0" y1="68.8" x2="30.6" y2="68.8" stroke="#a6a6a6" stroke-width="1"/>
<text x="23.6" y="71.9" font-size="8.6" text-anchor="end" fill="#2a2a2a" stroke-width="0.08">3000</text>
<line x1="27.0" y1="98.2" x2="30.6" y2="98.2" stroke="#a6a6a6" stroke-width="1"/>
<text x="23.6" y="101.3" font-size="8.6" text-anchor="end" fill="#2a2a2a" stroke-width="0.08">2500</text>
<line x1="27.0" y1="127.6" x2="30.6" y2="127.6" stroke="#a6a6a6" stroke-width="1"/>
<text x="23.6" y="130.7" font-size="8.6" text-anchor="end" fill="#2a2a2a" stroke-width="0.08">2000</text>
<line x1="27.0" y1="157.0" x2="30.6" y2="157.0" stroke="#a6a6a6" stroke-width="1"/>
<text x="23.6" y="160.1" font-size="8.6" text-anchor="end" fill="#2a2a2a" stroke-width="0.08">1500</text>
<line x1="186.7" y1="161.5" x2="189.89999999999998" y2="161.5" stroke="#a6a6a6" stroke-width="1"/>
<text x="193.0" y="165.2" font-size="10.25" fill="#2a2a2a">0.00</text>
<line x1="186.7" y1="122.8" x2="189.89999999999998" y2="122.8" stroke="#a6a6a6" stroke-width="1"/>
<text x="193.0" y="126.5" font-size="10.25" fill="#2a2a2a">0.05</text>
<line x1="186.7" y1="84.0" x2="189.89999999999998" y2="84.0" stroke="#a6a6a6" stroke-width="1"/>
<text x="193.0" y="87.7" font-size="10.25" fill="#2a2a2a">0.10</text>
<line x1="186.7" y1="45.3" x2="189.89999999999998" y2="45.3" stroke="#a6a6a6" stroke-width="1"/>
<text x="193.0" y="49.0" font-size="10.25" fill="#2a2a2a">0.15</text>
<line x1="186.7" y1="6.6" x2="189.89999999999998" y2="6.6" stroke="#a6a6a6" stroke-width="1"/>
<text x="193.0" y="10.3" font-size="10.25" fill="#2a2a2a">0.20</text>
<line x1="36.6" y1="161.5" x2="36.6" y2="164.5" stroke="#a6a6a6" stroke-width="1"/>
<text x="36.6" y="173.5" font-size="9.6" text-anchor="middle" fill="#2a2a2a">1987</text>
<line x1="180.8" y1="161.5" x2="180.8" y2="164.5" stroke="#a6a6a6" stroke-width="1"/>
<text x="180.8" y="173.5" font-size="9.6" text-anchor="middle" fill="#2a2a2a">2001</text>
<text x="72.8" y="170.8" font-size="9.8" text-anchor="middle" fill="#2a2a2a">O error</text>
<text x="144.9" y="170.8" font-size="9.8" text-anchor="middle" fill="#2a2a2a">P error</text>
<polyline points="36.4,42.0 46.9,48.5 57.3,33.3 67.7,13.4 77.9,48.5 88.1,67.1 98.6,96.7 109.0,99.2 118.9,95.7 129.4,103.6 139.8,106.6 150.0,111.3 160.4,111.8 170.6,95.4 181.1,111.1" fill="none" stroke="#4e5054" stroke-width="1.45" stroke-dasharray="7 2.6" stroke-linejoin="round" stroke-linecap="butt"/>
<polyline points="36.4,104.9 46.9,96.2 57.3,88.0 67.7,87.5 77.9,98.2 88.1,109.4 98.6,138.4 109.0,132.7 118.9,130.0 129.4,136.0 139.8,138.4 149.8,142.7 160.2,145.0 170.6,156.1 180.7,148.8" fill="none" stroke="#4e5054" stroke-width="1.45" stroke-dasharray="7 2.6" stroke-linejoin="round" stroke-linecap="butt"/>
<polyline points="36.4,88.7 46.9,77.1 57.3,52.7 67.7,25.4 77.9,70.6 88.1,79.5 98.6,132.7 109.0,119.3 118.9,109.9 129.4,123.5 139.8,123.0 150.0,131.5 160.4,131.5" fill="none" stroke="#ee3037" stroke-width="1.7" stroke-linejoin="round" stroke-linecap="butt"/>
<rect x="265.3" y="151.8" width="76.2" height="10.0" fill="#fdd84f"/>
<rect x="341.5" y="150.1" width="76.5" height="11.7" fill="#70a251"/>
<rect x="259.2" y="6.6" width="165.0" height="155.20000000000002" fill="none" stroke="#a6a6a6" stroke-width="1"/>
<line x1="255.6" y1="32.6" x2="259.2" y2="32.6" stroke="#a6a6a6" stroke-width="1"/>
<text x="250.8" y="35.3" font-size="7.6" text-anchor="end" fill="#2a2a2a" stroke-width="0.08">35000</text>
<line x1="255.6" y1="65.8" x2="259.2" y2="65.8" stroke="#a6a6a6" stroke-width="1"/>
<text x="250.8" y="68.5" font-size="7.6" text-anchor="end" fill="#2a2a2a" stroke-width="0.08">30000</text>
<line x1="255.6" y1="99.1" x2="259.2" y2="99.1" stroke="#a6a6a6" stroke-width="1"/>
<text x="250.8" y="101.8" font-size="7.6" text-anchor="end" fill="#2a2a2a" stroke-width="0.08">25000</text>
<line x1="255.6" y1="132.3" x2="259.2" y2="132.3" stroke="#a6a6a6" stroke-width="1"/>
<text x="250.8" y="135.0" font-size="7.6" text-anchor="end" fill="#2a2a2a" stroke-width="0.08">20000</text>
<line x1="424.2" y1="161.8" x2="427.4" y2="161.8" stroke="#a6a6a6" stroke-width="1"/>
<text x="431.3" y="165.5" font-size="10.25" fill="#2a2a2a">0.00</text>
<line x1="424.2" y1="123.0" x2="427.4" y2="123.0" stroke="#a6a6a6" stroke-width="1"/>
<text x="431.3" y="126.7" font-size="10.25" fill="#2a2a2a">0.05</text>
<line x1="424.2" y1="84.2" x2="427.4" y2="84.2" stroke="#a6a6a6" stroke-width="1"/>
<text x="431.3" y="87.9" font-size="10.25" fill="#2a2a2a">0.10</text>
<line x1="424.2" y1="45.4" x2="427.4" y2="45.4" stroke="#a6a6a6" stroke-width="1"/>
<text x="431.3" y="49.1" font-size="10.25" fill="#2a2a2a">0.15</text>
<line x1="424.2" y1="6.6" x2="427.4" y2="6.6" stroke="#a6a6a6" stroke-width="1"/>
<text x="431.3" y="10.3" font-size="10.25" fill="#2a2a2a">0.20</text>
<line x1="265.3" y1="161.8" x2="265.3" y2="164.8" stroke="#a6a6a6" stroke-width="1"/>
<text x="265.3" y="173.8" font-size="9.6" text-anchor="middle" fill="#2a2a2a">1975</text>
<line x1="418.0" y1="161.8" x2="418.0" y2="164.8" stroke="#a6a6a6" stroke-width="1"/>
<text x="418.0" y="173.8" font-size="9.6" text-anchor="middle" fill="#2a2a2a">1984</text>
<text x="303.4" y="171.1" font-size="9.8" text-anchor="middle" fill="#2a2a2a">O error</text>
<text x="379.8" y="171.1" font-size="9.8" text-anchor="middle" fill="#2a2a2a">P error</text>
<polyline points="265.3,12.4 282.4,53.1 299.2,63.8 316.3,74.5 333.4,86.6 350.2,107.5 367.3,104.8 384.1,107.5 401.3,106.1 418.0,109.5" fill="none" stroke="#4e5054" stroke-width="1.45" stroke-dasharray="7.2 2.1" stroke-linejoin="round" stroke-linecap="butt"/>
<polyline points="265.3,98.4 282.4,111.8 299.2,117.5 316.3,124.2 333.4,130.3 350.2,155.1 367.3,143.7 384.1,146.4 401.3,147.1 418.0,153.8" fill="none" stroke="#4e5054" stroke-width="1.45" stroke-dasharray="7.2 2.1" stroke-linejoin="round" stroke-linecap="butt"/>
<polyline points="265.3,65.8 282.4,78.9 299.2,82.3 316.3,91.7 333.4,98.7 350.2,151.8 367.3,123.2 384.1,132.3 401.3,125.6 418.0,138.3" fill="none" stroke="#ee3037" stroke-width="1.7" stroke-linejoin="round" stroke-linecap="butt"/>
<rect x="504.7" y="128.2" width="72.0" height="33.6" fill="#fdd84f"/>
<rect x="576.7" y="128.2" width="72.1" height="33.6" fill="#70a251"/>
<rect x="498.7" y="6.6" width="156.09999999999997" height="155.20000000000002" fill="none" stroke="#a6a6a6" stroke-width="1"/>
<line x1="495.09999999999997" y1="12.4" x2="498.7" y2="12.4" stroke="#a6a6a6" stroke-width="1"/>
<text x="491.4" y="15.0" font-size="7.2" text-anchor="end" fill="#2a2a2a" stroke-width="0.08">10000</text>
<line x1="495.09999999999997" y1="33.6" x2="498.7" y2="33.6" stroke="#a6a6a6" stroke-width="1"/>
<text x="491.4" y="36.2" font-size="7.2" text-anchor="end" fill="#2a2a2a" stroke-width="0.08">9000</text>
<line x1="495.09999999999997" y1="54.8" x2="498.7" y2="54.8" stroke="#a6a6a6" stroke-width="1"/>
<text x="491.4" y="57.4" font-size="7.2" text-anchor="end" fill="#2a2a2a" stroke-width="0.08">8000</text>
<line x1="495.09999999999997" y1="76.1" x2="498.7" y2="76.1" stroke="#a6a6a6" stroke-width="1"/>
<text x="491.4" y="78.7" font-size="7.2" text-anchor="end" fill="#2a2a2a" stroke-width="0.08">7000</text>
<line x1="495.09999999999997" y1="97.3" x2="498.7" y2="97.3" stroke="#a6a6a6" stroke-width="1"/>
<text x="491.4" y="99.9" font-size="7.2" text-anchor="end" fill="#2a2a2a" stroke-width="0.08">6000</text>
<line x1="495.09999999999997" y1="118.5" x2="498.7" y2="118.5" stroke="#a6a6a6" stroke-width="1"/>
<text x="491.4" y="121.1" font-size="7.2" text-anchor="end" fill="#2a2a2a" stroke-width="0.08">5000</text>
<line x1="495.09999999999997" y1="139.8" x2="498.7" y2="139.8" stroke="#a6a6a6" stroke-width="1"/>
<text x="491.4" y="142.4" font-size="7.2" text-anchor="end" fill="#2a2a2a" stroke-width="0.08">4000</text>
<line x1="495.09999999999997" y1="161.0" x2="498.7" y2="161.0" stroke="#a6a6a6" stroke-width="1"/>
<text x="491.4" y="163.6" font-size="7.2" text-anchor="end" fill="#2a2a2a" stroke-width="0.08">3000</text>
<line x1="654.8" y1="161.8" x2="658.0" y2="161.8" stroke="#a6a6a6" stroke-width="1"/>
<text x="660.4" y="165.5" font-size="10.25" fill="#2a2a2a">0.00</text>
<line x1="654.8" y1="123.0" x2="658.0" y2="123.0" stroke="#a6a6a6" stroke-width="1"/>
<text x="660.4" y="126.7" font-size="10.25" fill="#2a2a2a">0.05</text>
<line x1="654.8" y1="84.2" x2="658.0" y2="84.2" stroke="#a6a6a6" stroke-width="1"/>
<text x="660.4" y="87.9" font-size="10.25" fill="#2a2a2a">0.10</text>
<line x1="654.8" y1="45.4" x2="658.0" y2="45.4" stroke="#a6a6a6" stroke-width="1"/>
<text x="660.4" y="49.1" font-size="10.25" fill="#2a2a2a">0.15</text>
<line x1="654.8" y1="6.6" x2="658.0" y2="6.6" stroke="#a6a6a6" stroke-width="1"/>
<text x="660.4" y="10.3" font-size="10.25" fill="#2a2a2a">0.20</text>
<line x1="504.7" y1="161.8" x2="504.7" y2="164.8" stroke="#a6a6a6" stroke-width="1"/>
<text x="504.7" y="173.8" font-size="9.6" text-anchor="middle" fill="#2a2a2a">1975</text>
<line x1="648.6" y1="161.8" x2="648.6" y2="164.8" stroke="#a6a6a6" stroke-width="1"/>
<text x="648.6" y="173.8" font-size="9.6" text-anchor="middle" fill="#2a2a2a">1984</text>
<text x="540.7" y="171.1" font-size="9.8" text-anchor="middle" fill="#2a2a2a">O error</text>
<text x="612.8" y="171.1" font-size="9.8" text-anchor="middle" fill="#2a2a2a">P error</text>
<polyline points="504.7,12.4 520.8,33.6 536.6,84.6 552.7,59.1 568.5,79.6 584.6,72.2 600.7,59.4 616.5,70.9 632.6,51.4 648.4,77.2" fill="none" stroke="#4e5054" stroke-width="1.4" stroke-dasharray="12 2.3" stroke-linejoin="round" stroke-linecap="butt"/>
<polyline points="504.7,137.7 520.8,122.6 536.6,156.1 552.7,127.6 568.5,137.7 584.6,132.6 600.7,126.3 616.5,131.0 632.6,124.9 648.4,137.7" fill="none" stroke="#4e5054" stroke-width="1.4" stroke-dasharray="12 2.3" stroke-linejoin="round" stroke-linecap="butt"/>
<polyline points="504.7,76.2 520.8,54.7 536.6,150.1 552.7,97.4 568.5,122.6 584.6,112.5 600.7,84.6 616.5,101.4 632.6,76.2 648.4,118.5" fill="none" stroke="#ee3037" stroke-width="1.7" stroke-linejoin="round" stroke-linecap="butt"/>
<rect x="36.9" y="345.3" width="71.8" height="5.7" fill="#fdd84f"/>
<rect x="108.7" y="335.5" width="71.9" height="15.5" fill="#70a251"/>
<rect x="30.6" y="188.6" width="156.1" height="162.4" fill="none" stroke="#a6a6a6" stroke-width="1"/>
<line x1="27.0" y1="205.6" x2="30.6" y2="205.6" stroke="#a6a6a6" stroke-width="1"/>
<text x="23.0" y="208.2" font-size="7.3" text-anchor="end" fill="#2a2a2a" stroke-width="0.08">50000</text>
<line x1="27.0" y1="237.1" x2="30.6" y2="237.1" stroke="#a6a6a6" stroke-width="1"/>
<text x="23.0" y="239.7" font-size="7.3" text-anchor="end" fill="#2a2a2a" stroke-width="0.08">40000</text>
<line x1="27.0" y1="268.6" x2="30.6" y2="268.6" stroke="#a6a6a6" stroke-width="1"/>
<text x="23.0" y="271.2" font-size="7.3" text-anchor="end" fill="#2a2a2a" stroke-width="0.08">30000</text>
<line x1="27.0" y1="300.2" x2="30.6" y2="300.2" stroke="#a6a6a6" stroke-width="1"/>
<text x="23.0" y="302.8" font-size="7.3" text-anchor="end" fill="#2a2a2a" stroke-width="0.08">20000</text>
<line x1="27.0" y1="331.7" x2="30.6" y2="331.7" stroke="#a6a6a6" stroke-width="1"/>
<text x="23.0" y="334.3" font-size="7.3" text-anchor="end" fill="#2a2a2a" stroke-width="0.08">10000</text>
<line x1="186.7" y1="351.0" x2="189.89999999999998" y2="351.0" stroke="#a6a6a6" stroke-width="1"/>
<text x="193.0" y="354.7" font-size="10.25" fill="#2a2a2a">0.00</text>
<line x1="186.7" y1="310.4" x2="189.89999999999998" y2="310.4" stroke="#a6a6a6" stroke-width="1"/>
<text x="193.0" y="314.1" font-size="10.25" fill="#2a2a2a">0.05</text>
<line x1="186.7" y1="269.8" x2="189.89999999999998" y2="269.8" stroke="#a6a6a6" stroke-width="1"/>
<text x="193.0" y="273.5" font-size="10.25" fill="#2a2a2a">0.10</text>
<line x1="186.7" y1="229.2" x2="189.89999999999998" y2="229.2" stroke="#a6a6a6" stroke-width="1"/>
<text x="193.0" y="232.9" font-size="10.25" fill="#2a2a2a">0.15</text>
<line x1="186.7" y1="188.6" x2="189.89999999999998" y2="188.6" stroke="#a6a6a6" stroke-width="1"/>
<text x="193.0" y="192.3" font-size="10.25" fill="#2a2a2a">0.20</text>
<line x1="36.9" y1="351.0" x2="36.9" y2="354.0" stroke="#a6a6a6" stroke-width="1"/>
<text x="36.9" y="364.0" font-size="9.6" text-anchor="middle" fill="#2a2a2a">1972</text>
<line x1="180.6" y1="351.0" x2="180.6" y2="354.0" stroke="#a6a6a6" stroke-width="1"/>
<text x="180.6" y="364.0" font-size="9.6" text-anchor="middle" fill="#2a2a2a">2002</text>
<text x="72.8" y="361.2" font-size="9.8" text-anchor="middle" fill="#2a2a2a">O error</text>
<text x="144.7" y="361.2" font-size="9.8" text-anchor="middle" fill="#2a2a2a">P error</text>
<polyline points="36.9,336.6 41.7,338.0 46.5,334.0 51.3,330.0 56.1,327.0 60.8,318.0 65.6,301.0 70.5,290.1 75.2,294.3 79.9,290.6 84.9,285.6 89.6,276.9 94.3,272.5 99.1,264.0 104.0,249.1 108.7,252.1 113.5,232.7 118.2,235.4 123.2,230.2 127.9,214.8 132.6,196.2 137.6,212.8 142.3,207.9 147.0,194.9 151.7,209.9 156.7,229.2 161.4,231.0 166.2,238.4 170.9,245.9 175.8,242.2 180.6,237.7" fill="none" stroke="#4e5054" stroke-width="1.45" stroke-dasharray="6.8 2.3" stroke-linejoin="round" stroke-linecap="butt"/>
<polyline points="36.9,345.0 41.7,344.0 46.5,341.6 51.3,342.0 56.1,338.0 60.8,327.0 65.6,316.0 70.5,313.0 75.2,306.8 79.9,301.8 84.9,298.1 89.6,294.3 94.3,290.6 99.1,287.4 104.0,289.4 108.7,278.9 113.5,279.9 118.2,265.0 123.2,258.3 127.9,250.1 132.6,257.1 137.6,248.4 142.3,240.9 147.0,238.4 151.7,245.9 156.7,259.6 161.4,260.8 166.2,268.3 170.9,275.7 175.8,270.0 180.6,268.3" fill="none" stroke="#4e5054" stroke-width="1.45" stroke-dasharray="6.8 2.3" stroke-linejoin="round" stroke-linecap="butt"/>
<polyline points="36.9,337.4 41.7,342.0 46.5,338.6" fill="none" stroke="#ee3037" stroke-width="1.7" stroke-linejoin="round" stroke-linecap="butt"/>
<polyline points="56.1,338.0 60.8,320.0 65.6,303.0" fill="none" stroke="#ee3037" stroke-width="1.7" stroke-linejoin="round" stroke-linecap="butt"/>
<polyline points="75.2,303.8 79.9,298.1 84.9,296.3 89.6,285.1 94.3,287.4 99.1,276.5" fill="none" stroke="#ee3037" stroke-width="1.7" stroke-linejoin="round" stroke-linecap="butt"/>
<polyline points="118.2,249.6 123.2,246.6 127.9,221.8" fill="none" stroke="#ee3037" stroke-width="1.7" stroke-linejoin="round" stroke-linecap="butt"/>
<polyline points="137.6,235.9 142.3,223.5 147.0,204.4 151.7,224.8 156.7,252.1 161.4,242.2 166.2,257.1 170.9,269.5 175.8,257.1 180.6,254.6" fill="none" stroke="#ee3037" stroke-width="1.7" stroke-linejoin="round" stroke-linecap="butt"/>
<rect x="36.4" y="509.7" width="72.4" height="29.5" fill="#fdd84f"/>
<rect x="108.8" y="408.6" width="72.1" height="130.6" fill="#70a251"/>
<rect x="30.6" y="385.2" width="156.1" height="154.00000000000006" fill="none" stroke="#a6a6a6" stroke-width="1"/>
<line x1="27.0" y1="387.4" x2="30.6" y2="387.4" stroke="#a6a6a6" stroke-width="1"/>
<text x="23.0" y="390.6" font-size="9.0" text-anchor="end" fill="#2a2a2a">8000</text>
<line x1="27.0" y1="424.2" x2="30.6" y2="424.2" stroke="#a6a6a6" stroke-width="1"/>
<text x="23.0" y="427.4" font-size="9.0" text-anchor="end" fill="#2a2a2a">6000</text>
<line x1="27.0" y1="461.1" x2="30.6" y2="461.1" stroke="#a6a6a6" stroke-width="1"/>
<text x="23.0" y="464.3" font-size="9.0" text-anchor="end" fill="#2a2a2a">4000</text>
<line x1="27.0" y1="497.9" x2="30.6" y2="497.9" stroke="#a6a6a6" stroke-width="1"/>
<text x="23.0" y="501.1" font-size="9.0" text-anchor="end" fill="#2a2a2a">2000</text>
<line x1="27.0" y1="534.7" x2="30.6" y2="534.7" stroke="#a6a6a6" stroke-width="1"/>
<text x="23.0" y="537.9" font-size="9.0" text-anchor="end" fill="#2a2a2a">0</text>
<line x1="186.7" y1="539.2" x2="189.89999999999998" y2="539.2" stroke="#a6a6a6" stroke-width="1"/>
<text x="193.0" y="542.9" font-size="10.25" fill="#2a2a2a">0.00</text>
<line x1="186.7" y1="500.7" x2="189.89999999999998" y2="500.7" stroke="#a6a6a6" stroke-width="1"/>
<text x="193.0" y="504.4" font-size="10.25" fill="#2a2a2a">0.05</text>
<line x1="186.7" y1="462.2" x2="189.89999999999998" y2="462.2" stroke="#a6a6a6" stroke-width="1"/>
<text x="193.0" y="465.9" font-size="10.25" fill="#2a2a2a">0.10</text>
<line x1="186.7" y1="423.7" x2="189.89999999999998" y2="423.7" stroke="#a6a6a6" stroke-width="1"/>
<text x="193.0" y="427.4" font-size="10.25" fill="#2a2a2a">0.15</text>
<line x1="186.7" y1="385.2" x2="189.89999999999998" y2="385.2" stroke="#a6a6a6" stroke-width="1"/>
<text x="193.0" y="388.9" font-size="10.25" fill="#2a2a2a">0.20</text>
<line x1="36.4" y1="539.2" x2="36.4" y2="542.2" stroke="#a6a6a6" stroke-width="1"/>
<text x="36.4" y="551.2" font-size="9.6" text-anchor="middle" fill="#2a2a2a">1908</text>
<line x1="180.8" y1="539.2" x2="180.8" y2="542.2" stroke="#a6a6a6" stroke-width="1"/>
<text x="180.8" y="551.2" font-size="9.6" text-anchor="middle" fill="#2a2a2a">1981</text>
<text x="72.6" y="548.5" font-size="9.8" text-anchor="middle" fill="#2a2a2a">O error</text>
<text x="144.8" y="548.5" font-size="9.8" text-anchor="middle" fill="#2a2a2a">P error</text>
<polyline points="36.6,515.3 38.8,511.7 41.3,507.3 43.5,505.5 45.7,508.0 47.5,509.1 49.7,508.8 51.9,508.0 54.1,506.9 56.3,504.4 58.1,507.3 59.2,511.7 60.3,519.0 61.6,521.5 63.9,514.6 65.8,512.0 68.0,514.6 70.1,515.7 72.0,519.7 73.8,527.0 75.5,525.0 77.4,521.9 80.4,522.8 82.6,524.7 84.7,526.5 86.9,528.7 89.1,528.0 91.3,526.2 93.5,527.7 95.7,527.1 97.9,527.7 100.1,526.2 102.3,525.0 104.5,524.5 106.6,523.9 108.8,525.8 111.0,528.7 113.2,528.5 115.4,527.7 117.6,527.1 119.8,526.5 122.0,527.4 124.2,523.9 126.4,518.5 128.5,515.1 132.4,511.8 135.3,500.3 138.1,485.9 140.2,484.4 142.5,484.4 145.3,490.2 148.2,493.1 151.1,483.0 154.0,467.1 156.3,448.4 158.3,442.6 159.8,429.7 161.2,438.3 162.6,426.8 164.1,428.2 165.5,391.3 167.8,419.6 169.8,445.5 171.9,462.8 174.2,474.3 176.5,480.1 177.9,476.6 179.4,480.1 180.5,479.5" fill="none" stroke="#1e1e1e" stroke-width="1.2" stroke-dasharray="4 2" stroke-linejoin="round" stroke-linecap="butt"/>
<polyline points="36.6,525.2 39.5,521.9 42.8,519.3 45.7,520.4 48.2,521.5 50.4,522.3 52.6,520.8 55.5,519.3 57.7,520.4 59.2,524.1 61.4,527.7 63.6,524.5 65.8,523.4 68.0,523.7 70.1,524.5 72.0,527.0 74.2,532.8 76.7,527.0 80.4,528.7 82.6,529.7 84.7,531.2 86.9,532.9 89.1,532.3 91.3,530.6 93.5,532.0 95.7,531.5 97.9,532.0 100.1,530.6 102.3,529.4 104.5,528.8 106.6,528.2 108.8,530.3 111.0,533.1 113.2,532.8 115.4,532.0 117.6,531.5 119.8,531.0 122.0,532.0 124.2,529.1 126.4,524.7 128.5,522.1 132.4,523.9 135.3,519.0 138.1,507.5 140.2,510.4 142.5,506.0 145.3,510.4 148.2,513.2 151.1,504.6 154.0,494.5 156.3,483.0 158.3,484.4 159.8,475.8 161.2,480.1 162.6,471.5 164.1,474.3 165.5,468.6 167.8,471.5 169.8,483.0 171.9,494.5 174.2,501.7 176.5,506.0 177.9,504.6 179.4,506.0 180.5,506.6" fill="none" stroke="#1e1e1e" stroke-width="1.2" stroke-dasharray="4 2" stroke-linejoin="round" stroke-linecap="butt"/>
<polyline points="36.6,521.9 39.5,516.8 43.5,511.7 45.7,515.7 46.8,517.2 48.2,515.0 50.1,518.6 51.9,514.6 53.7,513.5 55.2,514.2 56.6,510.6 58.1,515.3 59.6,521.2 61.4,527.0 63.2,521.2 64.7,517.5 66.1,516.8 68.0,519.7 69.8,519.0 71.6,523.4 74.2,532.1 76.7,524.8 78.2,522.6 80.4,525.8 82.6,527.2 84.7,528.7 86.9,530.9 89.1,530.1 91.3,528.2 93.5,529.7 95.7,529.1 97.9,529.7 100.1,528.2 102.3,527.2 104.5,526.5 106.6,525.8 108.8,528.0 111.0,530.9 113.2,530.6 115.4,529.7 117.6,529.1 119.8,528.7 122.0,529.7 124.2,526.5 126.4,521.4 128.5,518.5 132.4,519.0 135.3,511.8 138.1,496.0 140.2,498.8 142.5,493.9 145.3,501.7 148.2,504.6 151.1,494.5 154.0,483.0 156.3,468.6 158.3,472.9 159.8,455.6 161.2,464.3 162.6,451.3 164.1,468.6 165.5,410.9 167.8,434.0 169.8,459.9 171.9,480.1 174.2,494.5 176.5,498.8 177.9,491.6 179.4,497.4 180.5,493.9" fill="none" stroke="#f4351d" stroke-width="1.5" stroke-linejoin="round" stroke-linecap="butt"/>
<rect x="265.9" y="503.0" width="77.9" height="36.2" fill="#fdd84f"/>
<rect x="343.8" y="534.9" width="77.8" height="4.3" fill="#70a251"/>
<rect x="259.6" y="385.9" width="168.5" height="153.30000000000007" fill="none" stroke="#a6a6a6" stroke-width="1"/>
<line x1="256.0" y1="398.1" x2="259.6" y2="398.1" stroke="#a6a6a6" stroke-width="1"/>
<text x="252.0" y="401.8" font-size="10.2" text-anchor="end" fill="#2a2a2a">350</text>
<line x1="256.0" y1="418.5" x2="259.6" y2="418.5" stroke="#a6a6a6" stroke-width="1"/>
<text x="252.0" y="422.2" font-size="10.2" text-anchor="end" fill="#2a2a2a">300</text>
<line x1="256.0" y1="438.9" x2="259.6" y2="438.9" stroke="#a6a6a6" stroke-width="1"/>
<text x="252.0" y="442.6" font-size="10.2" text-anchor="end" fill="#2a2a2a">250</text>
<line x1="256.0" y1="459.4" x2="259.6" y2="459.4" stroke="#a6a6a6" stroke-width="1"/>
<text x="252.0" y="463.1" font-size="10.2" text-anchor="end" fill="#2a2a2a">200</text>
<line x1="256.0" y1="479.8" x2="259.6" y2="479.8" stroke="#a6a6a6" stroke-width="1"/>
<text x="252.0" y="483.5" font-size="10.2" text-anchor="end" fill="#2a2a2a">150</text>
<line x1="256.0" y1="500.2" x2="259.6" y2="500.2" stroke="#a6a6a6" stroke-width="1"/>
<text x="252.0" y="503.9" font-size="10.2" text-anchor="end" fill="#2a2a2a">100</text>
<line x1="256.0" y1="520.6" x2="259.6" y2="520.6" stroke="#a6a6a6" stroke-width="1"/>
<text x="252.0" y="524.3" font-size="10.2" text-anchor="end" fill="#2a2a2a">50</text>
<line x1="428.1" y1="539.2" x2="431.3" y2="539.2" stroke="#a6a6a6" stroke-width="1"/>
<text x="435.3" y="542.9" font-size="10.25" fill="#2a2a2a">0.00</text>
<line x1="428.1" y1="500.9" x2="431.3" y2="500.9" stroke="#a6a6a6" stroke-width="1"/>
<text x="435.3" y="504.6" font-size="10.25" fill="#2a2a2a">0.05</text>
<line x1="428.1" y1="462.6" x2="431.3" y2="462.6" stroke="#a6a6a6" stroke-width="1"/>
<text x="435.3" y="466.2" font-size="10.25" fill="#2a2a2a">0.10</text>
<line x1="428.1" y1="424.2" x2="431.3" y2="424.2" stroke="#a6a6a6" stroke-width="1"/>
<text x="435.3" y="427.9" font-size="10.25" fill="#2a2a2a">0.15</text>
<line x1="428.1" y1="385.9" x2="431.3" y2="385.9" stroke="#a6a6a6" stroke-width="1"/>
<text x="435.3" y="389.6" font-size="10.25" fill="#2a2a2a">0.20</text>
<line x1="265.9" y1="539.2" x2="265.9" y2="542.2" stroke="#a6a6a6" stroke-width="1"/>
<text x="265.9" y="551.2" font-size="9.6" text-anchor="middle" fill="#2a2a2a">1912</text>
<line x1="422.1" y1="539.2" x2="422.1" y2="542.2" stroke="#a6a6a6" stroke-width="1"/>
<text x="422.1" y="551.2" font-size="9.6" text-anchor="middle" fill="#2a2a2a">1957</text>
<text x="304.9" y="548.5" font-size="9.8" text-anchor="middle" fill="#2a2a2a">O error</text>
<text x="382.7" y="548.5" font-size="9.8" text-anchor="middle" fill="#2a2a2a">P error</text>
<polyline points="265.9,390.8 267.9,420.4 270.3,445.6 273.0,467.4 276.0,484.2 279.4,499.3 283.2,504.3 286.6,509.9 290.2,513.7 293.6,506.5 297.0,517.5 300.6,521.3 304.0,522.2 307.4,520.3 311.0,519.0 314.4,521.3 317.8,513.2 321.4,521.3 324.8,524.1 328.2,525.1 331.7,525.4 335.2,526.0 338.7,525.4 342.1,524.7 339.4,525.7 343.8,525.1 354.0,526.3 364.2,526.9 378.8,526.5 393.4,526.6 408.0,526.5 421.9,526.9" fill="none" stroke="#26282b" stroke-width="1.25" stroke-dasharray="5 2.2" stroke-linejoin="round" stroke-linecap="butt"/>
<polyline points="265.8,464.6 269.2,477.8 272.8,494.8 276.2,506.2 279.6,517.5 283.2,515.6 286.6,519.4 290.2,522.2 293.6,525.1 297.0,528.8 300.6,533.0 304.0,529.8 307.4,527.9 311.0,527.0 314.4,527.3 317.8,527.0 321.4,528.8 324.8,529.8 328.2,530.4 331.7,530.7 342.1,530.7 339.4,530.7 343.8,530.5 354.0,531.6 364.2,532.2 378.8,531.7 393.4,531.9 408.0,531.7 421.9,531.9" fill="none" stroke="#26282b" stroke-width="1.25" stroke-dasharray="5 2.2" stroke-linejoin="round" stroke-linecap="butt"/>
<polyline points="265.8,453.6 269.2,450.4 272.8,480.6 276.2,480.3 279.6,515.6 283.2,505.2 286.6,510.9 290.2,517.1 293.6,506.2 297.0,523.2 300.6,532.6 304.0,527.0 307.4,521.3 311.0,519.4 314.4,526.0 317.8,512.8 321.4,525.1 324.8,527.9 328.2,527.3 331.7,527.9 335.2,528.8 338.7,527.9 342.1,526.6 339.4,529.1 343.8,526.9 349.6,527.6 355.4,528.4 360.5,531.0 365.7,532.0 371.5,530.5 377.3,528.4 383.2,528.6 389.0,529.5 392.7,531.3 394.9,528.4 397.8,532.7 400.7,529.1 406.5,528.4 412.4,529.1 418.2,532.0 421.9,529.8" fill="none" stroke="#f22a22" stroke-width="1.55" stroke-linejoin="round" stroke-linecap="butt"/>
<rect x="506.4" y="351.6" width="70.9" height="9.4" fill="#fdd84f"/>
<rect x="577.3" y="347.9" width="71.5" height="13.1" fill="#70a251"/>
<rect x="500.9" y="191.4" width="154.20000000000005" height="169.6" fill="none" stroke="#a6a6a6" stroke-width="1"/>
<line x1="497.29999999999995" y1="225.5" x2="500.9" y2="225.5" stroke="#a6a6a6" stroke-width="1"/>
<text x="492.8" y="228.9" font-size="9.4" text-anchor="end" fill="#2a2a2a">1.4</text>
<line x1="497.29999999999995" y1="266.4" x2="500.9" y2="266.4" stroke="#a6a6a6" stroke-width="1"/>
<text x="492.8" y="269.8" font-size="9.4" text-anchor="end" fill="#2a2a2a">1.2</text>
<line x1="497.29999999999995" y1="307.3" x2="500.9" y2="307.3" stroke="#a6a6a6" stroke-width="1"/>
<text x="492.8" y="310.7" font-size="9.4" text-anchor="end" fill="#2a2a2a">1.0</text>
<line x1="497.29999999999995" y1="348.2" x2="500.9" y2="348.2" stroke="#a6a6a6" stroke-width="1"/>
<text x="492.8" y="351.6" font-size="9.4" text-anchor="end" fill="#2a2a2a">0.8</text>
<line x1="655.1" y1="361.0" x2="658.3000000000001" y2="361.0" stroke="#a6a6a6" stroke-width="1"/>
<text x="660.7" y="364.7" font-size="10.25" fill="#2a2a2a">0.00</text>
<line x1="655.1" y1="318.6" x2="658.3000000000001" y2="318.6" stroke="#a6a6a6" stroke-width="1"/>
<text x="660.7" y="322.3" font-size="10.25" fill="#2a2a2a">0.05</text>
<line x1="655.1" y1="276.2" x2="658.3000000000001" y2="276.2" stroke="#a6a6a6" stroke-width="1"/>
<text x="660.7" y="279.9" font-size="10.25" fill="#2a2a2a">0.10</text>
<line x1="655.1" y1="233.8" x2="658.3000000000001" y2="233.8" stroke="#a6a6a6" stroke-width="1"/>
<text x="660.7" y="237.5" font-size="10.25" fill="#2a2a2a">0.15</text>
<line x1="655.1" y1="191.4" x2="658.3000000000001" y2="191.4" stroke="#a6a6a6" stroke-width="1"/>
<text x="660.7" y="195.1" font-size="10.25" fill="#2a2a2a">0.20</text>
<line x1="506.4" y1="361" x2="506.4" y2="364" stroke="#a6a6a6" stroke-width="1"/>
<text x="506.4" y="374.5" font-size="9.6" text-anchor="middle" fill="#2a2a2a">1968</text>
<line x1="649.0" y1="361" x2="649.0" y2="364" stroke="#a6a6a6" stroke-width="1"/>
<text x="649.0" y="374.5" font-size="9.6" text-anchor="middle" fill="#2a2a2a">1990</text>
<text x="541.8" y="370.9" font-size="9.8" text-anchor="middle" fill="#2a2a2a">O error</text>
<text x="613.0" y="370.9" font-size="9.8" text-anchor="middle" fill="#2a2a2a">P error</text>
<polyline points="507.0,214.1 513.5,225.7 519.9,259.1 526.4,258.0 532.8,274.9 539.3,252.0 545.7,283.0 552.2,278.4 558.6,273.1 565.1,270.7 571.5,270.7 578.0,263.3 584.5,281.9 590.9,271.4 597.4,264.3 603.8,232.7 610.3,207.4 616.7,225.0 623.2,213.4 629.6,198.3 636.1,199.3 642.6,216.9 649.0,197.6" fill="none" stroke="#4e5054" stroke-width="1.4" stroke-dasharray="12 2.4" stroke-linejoin="round" stroke-linecap="butt"/>
<polyline points="507.0,312.8 513.5,303.7 519.9,322.3 526.4,320.5 532.8,337.4 539.3,322.3 545.7,353.9 552.2,343.4 558.6,333.5 565.1,331.1 571.5,330.4 578.0,326.9 584.5,353.9 590.9,332.8 597.4,324.1 603.8,303.0 610.3,293.1 616.7,298.8 623.2,293.1 629.6,289.6 636.1,288.9 642.6,298.8 649.0,291.7" fill="none" stroke="#4e5054" stroke-width="1.4" stroke-dasharray="12 2.4" stroke-linejoin="round" stroke-linecap="butt"/>
<polyline points="507.0,266.1 513.5,245.7 519.9,306.5 526.4,286.5 532.8,326.9 539.3,266.1 545.7,346.9 552.2,326.9 558.6,306.5 565.1,306.5 571.5,306.5 578.0,286.5 584.5,346.9 590.9,306.5 597.4,306.5 603.8,266.1 610.3,225.7 616.7,266.1 623.2,245.7 629.6,225.7 636.1,225.7 642.6,266.1 649.0,225.7" fill="none" stroke="#ee3037" stroke-width="1.7" stroke-linejoin="round" stroke-linecap="butt"/>
<rect x="506.2" y="535.5" width="71.3" height="4.2" fill="#fdd84f"/>
<rect x="577.5" y="530.2" width="71.3" height="9.5" fill="#70a251"/>
<rect x="500.5" y="390.1" width="154.60000000000002" height="149.60000000000002" fill="none" stroke="#a6a6a6" stroke-width="1"/>
<line x1="496.9" y1="395.9" x2="500.5" y2="395.9" stroke="#a6a6a6" stroke-width="1"/>
<text x="492.4" y="399.4" font-size="9.6" text-anchor="end" fill="#2a2a2a">2.0</text>
<line x1="496.9" y1="418.0" x2="500.5" y2="418.0" stroke="#a6a6a6" stroke-width="1"/>
<text x="492.4" y="421.5" font-size="9.6" text-anchor="end" fill="#2a2a2a">1.8</text>
<line x1="496.9" y1="440.1" x2="500.5" y2="440.1" stroke="#a6a6a6" stroke-width="1"/>
<text x="492.4" y="443.6" font-size="9.6" text-anchor="end" fill="#2a2a2a">1.6</text>
<line x1="496.9" y1="462.2" x2="500.5" y2="462.2" stroke="#a6a6a6" stroke-width="1"/>
<text x="492.4" y="465.7" font-size="9.6" text-anchor="end" fill="#2a2a2a">1.4</text>
<line x1="496.9" y1="484.3" x2="500.5" y2="484.3" stroke="#a6a6a6" stroke-width="1"/>
<text x="492.4" y="487.8" font-size="9.6" text-anchor="end" fill="#2a2a2a">1.2</text>
<line x1="496.9" y1="506.4" x2="500.5" y2="506.4" stroke="#a6a6a6" stroke-width="1"/>
<text x="492.4" y="509.9" font-size="9.6" text-anchor="end" fill="#2a2a2a">1.0</text>
<line x1="496.9" y1="528.5" x2="500.5" y2="528.5" stroke="#a6a6a6" stroke-width="1"/>
<text x="492.4" y="532.0" font-size="9.6" text-anchor="end" fill="#2a2a2a">0.8</text>
<line x1="655.1" y1="539.7" x2="658.3000000000001" y2="539.7" stroke="#a6a6a6" stroke-width="1"/>
<text x="660.7" y="543.4" font-size="10.25" fill="#2a2a2a">0.00</text>
<line x1="655.1" y1="502.3" x2="658.3000000000001" y2="502.3" stroke="#a6a6a6" stroke-width="1"/>
<text x="660.7" y="506.0" font-size="10.25" fill="#2a2a2a">0.05</text>
<line x1="655.1" y1="464.9" x2="658.3000000000001" y2="464.9" stroke="#a6a6a6" stroke-width="1"/>
<text x="660.7" y="468.6" font-size="10.25" fill="#2a2a2a">0.10</text>
<line x1="655.1" y1="427.5" x2="658.3000000000001" y2="427.5" stroke="#a6a6a6" stroke-width="1"/>
<text x="660.7" y="431.2" font-size="10.25" fill="#2a2a2a">0.15</text>
<line x1="655.1" y1="390.1" x2="658.3000000000001" y2="390.1" stroke="#a6a6a6" stroke-width="1"/>
<text x="660.7" y="393.8" font-size="10.25" fill="#2a2a2a">0.20</text>
<line x1="506.2" y1="539.7" x2="506.2" y2="542.7" stroke="#a6a6a6" stroke-width="1"/>
<text x="506.2" y="551.4" font-size="9.6" text-anchor="middle" fill="#2a2a2a">1968</text>
<line x1="649.2" y1="539.7" x2="649.2" y2="542.7" stroke="#a6a6a6" stroke-width="1"/>
<text x="649.2" y="551.4" font-size="9.6" text-anchor="middle" fill="#2a2a2a">1990</text>
<text x="541.9" y="548.6" font-size="9.8" text-anchor="middle" fill="#2a2a2a">O error</text>
<text x="613.1" y="548.6" font-size="9.8" text-anchor="middle" fill="#2a2a2a">P error</text>
<polyline points="506.0,500.3 512.5,513.7 519.0,514.4 525.5,507.0 532.0,499.3 538.5,499.3 545.0,510.4 551.5,509.4 557.9,502.6 564.4,488.2 570.9,485.8 577.4,470.7 583.9,453.9 590.4,460.0 596.9,444.5 603.4,425.4 609.8,405.3 616.3,406.3 622.8,395.2 629.3,412.0 635.8,406.9 642.3,400.9 648.8,399.6" fill="none" stroke="#55595e" stroke-width="1.3" stroke-dasharray="12 2.4" stroke-linejoin="round" stroke-linecap="butt"/>
<polyline points="506.0,527.8 512.5,533.5 519.0,533.9 525.5,527.8 532.0,521.8 538.5,522.8 545.0,532.9 551.5,533.9 557.9,525.1 564.4,513.7 570.9,511.0 577.4,495.9 583.9,485.8 590.4,490.2 596.9,470.1 603.4,457.3 609.8,448.2 616.3,445.6 622.8,439.8 629.3,450.6 635.8,445.6 642.3,441.2 648.8,446.6" fill="none" stroke="#55595e" stroke-width="1.3" stroke-dasharray="12 2.4" stroke-linejoin="round" stroke-linecap="butt"/>
<polyline points="506.0,506.3 512.5,528.5 519.0,528.5 525.5,517.8 532.0,506.3 538.5,506.3 545.0,528.5 551.5,528.5 557.9,517.1 564.4,495.3 570.9,506.3 577.4,484.2 583.9,462.0 590.4,484.2 596.9,462.0 603.4,439.8 609.8,418.0 616.3,428.8 622.8,406.9 629.3,439.8 635.8,428.8 642.3,418.0 648.8,428.8" fill="none" stroke="#ee3037" stroke-width="1.7" stroke-linejoin="round" stroke-linecap="butt"/>
</svg>
</body></html>
